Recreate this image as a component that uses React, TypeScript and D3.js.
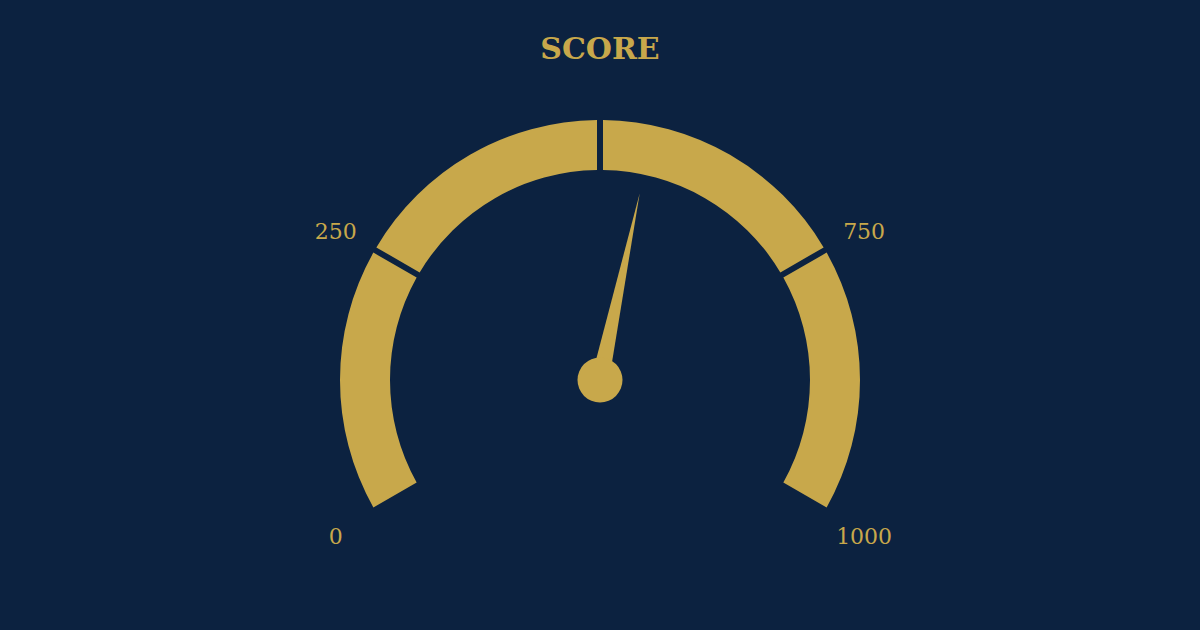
import * as d3 from 'd3'

const TITLE = 'SCORE'
const MIN = 0
const MAX = 1000
const VALUE = 550
const BREAKS = [0, 250, 500, 750, 1000]          // segment boundaries
const TICK_LABELS = [0, 250, 750, 1000]          // labels shown round the dial

const W = 1200
const H = 630
const BG = '#0c2240'
const GOLD = '#c8a84b'

const CX = 600
const CY = 380
const OUTER_R = 260
const INNER_R = 210
const GAP = 6
const LABEL_R = 305
const NEEDLE_LEN = 191
const NEEDLE_HALF = 9
const HUB_R = 22.5

// value -> angle (radians, clockwise from 12 o'clock)
const angle = d3.scaleLinear()
  .domain([MIN, MAX])
  .range([-2 * Math.PI / 3, 2 * Math.PI / 3])

const polar = (r: number, a: number): [number, number] =>
  [CX + r * Math.sin(a), CY - r * Math.cos(a)]

export default function App() {
  // constant-width gaps between (and at the ends of) the segments
  const segArc = d3.arc<{ a0: number; a1: number }>()
    .innerRadius(INNER_R).outerRadius(OUTER_R)
    .startAngle(d => d.a0).endAngle(d => d.a1)
    .padRadius(OUTER_R).padAngle(GAP / OUTER_R)

  const segments = d3.pairs(BREAKS).map(([v0, v1]) => ({ a0: angle(v0), a1: angle(v1) }))

  // needle triangle
  const na = angle(VALUE)
  const tip = polar(NEEDLE_LEN, na)
  const b1 = polar(NEEDLE_HALF, na - Math.PI / 2)
  const b2 = polar(NEEDLE_HALF, na + Math.PI / 2)

  return (
    <svg width={W} height={H} style={{ position: 'absolute', left: 0, top: 0, display: 'block' }}>
      <rect width={W} height={H} fill={BG} />

      <text x={CX} y={48} textAnchor="middle" dominantBaseline="central"
        style={{ fontFamily: '"DejaVu Serif", serif', fontWeight: 700, fontSize: 30, fill: GOLD }}>
        {TITLE}
      </text>

      {/* Dial segments */}
      <g transform={`translate(${CX},${CY})`}>
        {segments.map((s, i) => (
          <path key={i} d={segArc(s) ?? ''} fill={GOLD} />
        ))}
      </g>

      {/* Tick labels */}
      {TICK_LABELS.map(v => {
        const [x, y] = polar(LABEL_R, angle(v))
        return (
          <text key={v} x={x} y={y + 4} textAnchor="middle" dominantBaseline="central"
            style={{ fontFamily: '"DejaVu Serif", serif', fontSize: 22, fill: GOLD }}>
            {v}
          </text>
        )
      })}

      {/* Needle */}
      <path d={`M${b1[0]},${b1[1]}L${tip[0]},${tip[1]}L${b2[0]},${b2[1]}Z`} fill={GOLD} />
      <circle cx={CX} cy={CY} r={HUB_R} fill={GOLD} />
    </svg>
  )
}
